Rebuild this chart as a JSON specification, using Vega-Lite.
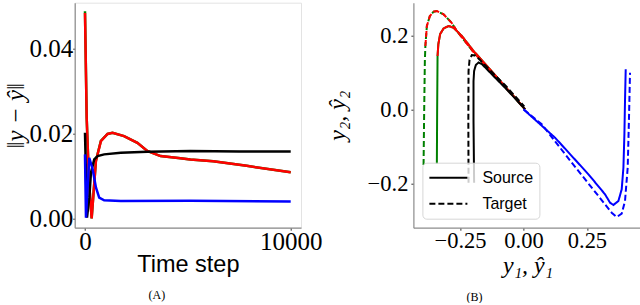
{
  "$schema": "https://vega.github.io/schema/vega-lite/v6.json",
  "background": "white",
  "padding": {"left": 2.7, "top": 1.7, "right": 0, "bottom": 0},
  "datasets": {
    "a": [
      {"s": "g", "t": 0, "v": 0.0488}, {"s": "g", "t": 82, "v": 0.0238}, {"s": "g", "t": 193, "v": 0.0089}, {"s": "g", "t": 324, "v": 0.0}, {"s": "g", "t": 531, "v": 0.0136}, {"s": "g", "t": 773, "v": 0.0183}, {"s": "g", "t": 1097, "v": 0.0199}, {"s": "g", "t": 1338, "v": 0.0202}, {"s": "g", "t": 1899, "v": 0.0194}, {"s": "g", "t": 2546, "v": 0.0178}, {"s": "g", "t": 3029, "v": 0.0159}, {"s": "g", "t": 3671, "v": 0.0147}, {"s": "g", "t": 4640, "v": 0.0142}, {"s": "g", "t": 5121, "v": 0.0139}, {"s": "g", "t": 6232, "v": 0.0135}, {"s": "g", "t": 7860, "v": 0.0124}, {"s": "g", "t": 10000, "v": 0.0109},
      {"s": "r", "t": 0, "v": 0.0484}, {"s": "r", "t": 82, "v": 0.0236}, {"s": "r", "t": 193, "v": 0.0088}, {"s": "r", "t": 324, "v": 0.0}, {"s": "r", "t": 531, "v": 0.0135}, {"s": "r", "t": 773, "v": 0.0182}, {"s": "r", "t": 1097, "v": 0.0199}, {"s": "r", "t": 1338, "v": 0.0202}, {"s": "r", "t": 1899, "v": 0.0194}, {"s": "r", "t": 2546, "v": 0.0178}, {"s": "r", "t": 3029, "v": 0.0159}, {"s": "r", "t": 3671, "v": 0.0147}, {"s": "r", "t": 4640, "v": 0.0142}, {"s": "r", "t": 5121, "v": 0.0139}, {"s": "r", "t": 6232, "v": 0.0135}, {"s": "r", "t": 7860, "v": 0.0124}, {"s": "r", "t": 10000, "v": 0.0109},
      {"s": "k", "t": 0, "v": 0.0202}, {"s": "k", "t": 97, "v": 0.0002}, {"s": "k", "t": 208, "v": 0.0049}, {"s": "k", "t": 290, "v": 0.0108}, {"s": "k", "t": 449, "v": 0.0139}, {"s": "k", "t": 614, "v": 0.0147}, {"s": "k", "t": 932, "v": 0.0151}, {"s": "k", "t": 1739, "v": 0.0155}, {"s": "k", "t": 3029, "v": 0.0157}, {"s": "k", "t": 5121, "v": 0.0159}, {"s": "k", "t": 7500, "v": 0.0158}, {"s": "k", "t": 10000, "v": 0.0158},
      {"s": "b", "t": 0, "v": 0.0151}, {"s": "b", "t": 48, "v": 0.0002}, {"s": "b", "t": 208, "v": 0.0143}, {"s": "b", "t": 372, "v": 0.0116}, {"s": "b", "t": 531, "v": 0.0073}, {"s": "b", "t": 691, "v": 0.0049}, {"s": "b", "t": 932, "v": 0.0043}, {"s": "b", "t": 1739, "v": 0.0041}, {"s": "b", "t": 5121, "v": 0.0042}, {"s": "b", "t": 10000, "v": 0.0040}
    ],
    "b": [
      {"s": "g", "k": "Source", "x": -0.3413, "y": -0.1469}, {"s": "g", "k": "Source", "x": -0.3402, "y": -0.0040}, {"s": "g", "k": "Source", "x": -0.3386, "y": 0.1442}, {"s": "g", "k": "Source", "x": -0.3354, "y": 0.1765}, {"s": "g", "k": "Source", "x": -0.3283, "y": 0.2035}, {"s": "g", "k": "Source", "x": -0.3150, "y": 0.2183}, {"s": "g", "k": "Source", "x": -0.2953, "y": 0.2251}, {"s": "g", "k": "Source", "x": -0.2756, "y": 0.2205}, {"s": "g", "k": "Source", "x": -0.2429, "y": 0.1981}, {"s": "g", "k": "Source", "x": -0.1969, "y": 0.1577}, {"s": "g", "k": "Source", "x": -0.1315, "y": 0.1078}, {"s": "g", "k": "Source", "x": -0.0657, "y": 0.0566}, {"s": "g", "k": "Source", "x": 0.0063, "y": 0.0005},
      {"s": "g", "k": "Target", "x": -0.3937, "y": -0.1496}, {"s": "g", "k": "Target", "x": -0.3913, "y": -0.0040}, {"s": "g", "k": "Target", "x": -0.3886, "y": 0.1307}, {"s": "g", "k": "Target", "x": -0.3866, "y": 0.1712}, {"s": "g", "k": "Target", "x": -0.3807, "y": 0.2251}, {"s": "g", "k": "Target", "x": -0.3689, "y": 0.2520}, {"s": "g", "k": "Target", "x": -0.3543, "y": 0.2636}, {"s": "g", "k": "Target", "x": -0.3413, "y": 0.2655}, {"s": "g", "k": "Target", "x": -0.3150, "y": 0.2566}, {"s": "g", "k": "Target", "x": -0.2823, "y": 0.2332}, {"s": "g", "k": "Target", "x": -0.2626, "y": 0.2116}, {"s": "g", "k": "Target", "x": -0.1969, "y": 0.1550}, {"s": "g", "k": "Target", "x": -0.1315, "y": 0.1051}, {"s": "g", "k": "Target", "x": -0.0657, "y": 0.0553}, {"s": "g", "k": "Target", "x": 0.0, "y": 0.0067},
      {"s": "r", "k": "Source", "x": -0.3386, "y": 0.1442}, {"s": "r", "k": "Source", "x": -0.3354, "y": 0.1765}, {"s": "r", "k": "Source", "x": -0.3283, "y": 0.2035}, {"s": "r", "k": "Source", "x": -0.3150, "y": 0.2183}, {"s": "r", "k": "Source", "x": -0.2953, "y": 0.2251}, {"s": "r", "k": "Source", "x": -0.2756, "y": 0.2205}, {"s": "r", "k": "Source", "x": -0.2429, "y": 0.1981}, {"s": "r", "k": "Source", "x": -0.1969, "y": 0.1577}, {"s": "r", "k": "Source", "x": -0.1315, "y": 0.1078}, {"s": "r", "k": "Source", "x": -0.0657, "y": 0.0566}, {"s": "r", "k": "Source", "x": 0.0063, "y": 0.0005},
      {"s": "r", "k": "Target", "x": -0.3866, "y": 0.1712}, {"s": "r", "k": "Target", "x": -0.3807, "y": 0.2251}, {"s": "r", "k": "Target", "x": -0.3689, "y": 0.2520}, {"s": "r", "k": "Target", "x": -0.3543, "y": 0.2636}, {"s": "r", "k": "Target", "x": -0.3413, "y": 0.2655}, {"s": "r", "k": "Target", "x": -0.3150, "y": 0.2566}, {"s": "r", "k": "Target", "x": -0.2823, "y": 0.2332}, {"s": "r", "k": "Target", "x": -0.2626, "y": 0.2116}, {"s": "r", "k": "Target", "x": -0.1969, "y": 0.1550}, {"s": "r", "k": "Target", "x": -0.1315, "y": 0.1051}, {"s": "r", "k": "Target", "x": -0.0657, "y": 0.0553}, {"s": "r", "k": "Target", "x": 0.0, "y": 0.0067},
      {"s": "k", "k": "Source", "x": -0.1945, "y": -0.1973}, {"s": "k", "k": "Source", "x": -0.1969, "y": -0.0310}, {"s": "k", "k": "Source", "x": -0.1969, "y": 0.0768}, {"s": "k", "k": "Source", "x": -0.1945, "y": 0.1038}, {"s": "k", "k": "Source", "x": -0.1878, "y": 0.1199}, {"s": "k", "k": "Source", "x": -0.1772, "y": 0.1267}, {"s": "k", "k": "Source", "x": -0.1642, "y": 0.1226}, {"s": "k", "k": "Source", "x": -0.1181, "y": 0.0903}, {"s": "k", "k": "Source", "x": -0.0657, "y": 0.0539}, {"s": "k", "k": "Source", "x": 0.0063, "y": 0.0005},
      {"s": "k", "k": "Target", "x": -0.2165, "y": -0.1973}, {"s": "k", "k": "Target", "x": -0.2173, "y": -0.0310}, {"s": "k", "k": "Target", "x": -0.2165, "y": 0.1038}, {"s": "k", "k": "Target", "x": -0.2126, "y": 0.1334}, {"s": "k", "k": "Target", "x": -0.2035, "y": 0.1469}, {"s": "k", "k": "Target", "x": -0.1917, "y": 0.1456}, {"s": "k", "k": "Target", "x": -0.1772, "y": 0.1375}, {"s": "k", "k": "Target", "x": -0.1248, "y": 0.1011}, {"s": "k", "k": "Target", "x": -0.0657, "y": 0.0606}, {"s": "k", "k": "Target", "x": 0.0031, "y": 0.0081},
      {"s": "b", "k": "Source", "x": 0.0, "y": 0.0005}, {"s": "b", "k": "Source", "x": 0.1244, "y": -0.0760}, {"s": "b", "k": "Source", "x": 0.2559, "y": -0.1747}, {"s": "b", "k": "Source", "x": 0.3213, "y": -0.2286}, {"s": "b", "k": "Source", "x": 0.3410, "y": -0.2512}, {"s": "b", "k": "Source", "x": 0.3543, "y": -0.2574}, {"s": "b", "k": "Source", "x": 0.3740, "y": -0.2466}, {"s": "b", "k": "Source", "x": 0.3870, "y": -0.2151}, {"s": "b", "k": "Source", "x": 0.3937, "y": -0.1569}, {"s": "b", "k": "Source", "x": 0.3976, "y": -0.0668}, {"s": "b", "k": "Source", "x": 0.4000, "y": 0.0229}, {"s": "b", "k": "Source", "x": 0.4028, "y": 0.1084},
      {"s": "b", "k": "Target", "x": 0.0012, "y": 0.0}, {"s": "b", "k": "Target", "x": 0.0720, "y": -0.0399}, {"s": "b", "k": "Target", "x": 0.1902, "y": -0.1434}, {"s": "b", "k": "Target", "x": 0.3213, "y": -0.2555}, {"s": "b", "k": "Target", "x": 0.3476, "y": -0.2782}, {"s": "b", "k": "Target", "x": 0.3673, "y": -0.2898}, {"s": "b", "k": "Target", "x": 0.3870, "y": -0.2809}, {"s": "b", "k": "Target", "x": 0.4000, "y": -0.2466}, {"s": "b", "k": "Target", "x": 0.4106, "y": -0.1569}, {"s": "b", "k": "Target", "x": 0.4157, "y": -0.0221}, {"s": "b", "k": "Target", "x": 0.4197, "y": 0.0992}
    ]
  },
  "bounds": "flush",
  "spacing": 111.7,
  "resolve": {"legend": {"strokeDash": "independent"}},
  "hconcat": [
    {
      "width": 226.3,
      "height": 225,
      "data": {"name": "a"},
      "view": {"stroke": "#e3e3e3", "strokeWidth": 1},
      "title": {"text": "(A)", "orient": "bottom", "frame": "group", "anchor": "middle", "dx": -31, "offset": 14, "font": "Liberation Serif", "fontSize": 12, "fontWeight": "normal", "color": "black"},
      "mark": {"type": "line", "strokeWidth": 2.5, "clip": true},
      "encoding": {
        "x": {"field": "t", "type": "quantitative", "scale": {"domain": [-500, 10500], "nice": false, "zero": false},
              "axis": {"values": [0, 10000], "format": "d", "title": "Time step", "labelFontSize": 25, "titleFont": "Liberation Sans", "titleFontSize": 23.5, "titlePadding": -2, "labelPadding": -1}},
        "y": {"field": "v", "type": "quantitative", "scale": {"domain": [-0.00216, 0.0508], "nice": false, "zero": false},
              "axis": {"values": [0, 0.02, 0.04], "format": ".2f", "title": "‖y − ŷ‖", "labelFontSize": 25, "tickSize": 2, "titleFont": "Liberation Serif", "titleFontStyle": "italic", "titleFontSize": 25, "titlePadding": 0, "labelPadding": 0}},
        "color": {"field": "s", "type": "nominal", "scale": {"domain": ["g", "r", "k", "b"], "range": ["#008000", "#ff0000", "#000000", "#0000ff"]}, "legend": null}
      }
    },
    {
      "width": 228.3,
      "height": 225,
      "data": {"name": "b"},
      "view": {"stroke": null},
      "title": {"text": "(B)", "orient": "bottom", "frame": "group", "anchor": "middle", "dx": -53, "offset": 14, "font": "Liberation Serif", "fontSize": 12, "fontWeight": "normal", "color": "black"},
      "mark": {"type": "line", "strokeWidth": 2, "clip": true},
      "encoding": {
        "x": {"field": "x", "type": "quantitative", "scale": {"domain": [-0.4338, 0.4657], "nice": false, "zero": false},
              "axis": {"values": [-0.25, 0, 0.25], "format": ".2f", "title": "y₁, ŷ₁", "labelFontSize": 22.5, "titleFont": "Liberation Serif", "titleFontStyle": "italic", "titleFontSize": 24, "titlePadding": 2, "labelPadding": -1}},
        "y": {"field": "y", "type": "quantitative", "scale": {"domain": [-0.3186, 0.2879], "nice": false, "zero": false},
              "axis": {"values": [-0.2, 0, 0.2], "format": ".1f", "title": "y₂, ŷ₂", "labelFontSize": 22.5, "titleFont": "Liberation Serif", "titleFontStyle": "italic", "titleFontSize": 24, "titlePadding": 18, "labelPadding": 3}},
        "color": {"field": "s", "type": "nominal", "scale": {"domain": ["g", "r", "k", "b"], "range": ["#008000", "#ff0000", "#000000", "#0000ff"]}, "legend": null},
        "strokeDash": {"field": "k", "type": "nominal", "scale": {"domain": ["Source", "Target"], "range": [[1, 0], [6, 3]]},
                       "legend": {"title": null, "orient": "bottom-left", "offset": 9, "fillColor": "rgba(255,255,255,0.8)", "strokeColor": "#d6d6d6", "cornerRadius": 4, "padding": 6, "symbolType": "stroke", "symbolSize": 1444, "symbolStrokeWidth": 2, "symbolStrokeColor": "black", "clipHeight": 18, "rowPadding": 8, "labelFont": "Liberation Sans", "labelFontSize": 16, "labelOffset": 14, "labelColor": "black"}},
        "order": {"value": null}
      }
    }
  ],
  "config": {
    "axis": {"grid": false, "labelFlush": false, "labelOverlap": false, "domainColor": "#8c8c8c", "domainWidth": 1.2, "tickColor": "#333333", "tickSize": 2.5, "labelFont": "Liberation Serif", "labelColor": "black", "titleColor": "black", "titleFontWeight": "normal", "labelFontWeight": "normal"}
  }
}
